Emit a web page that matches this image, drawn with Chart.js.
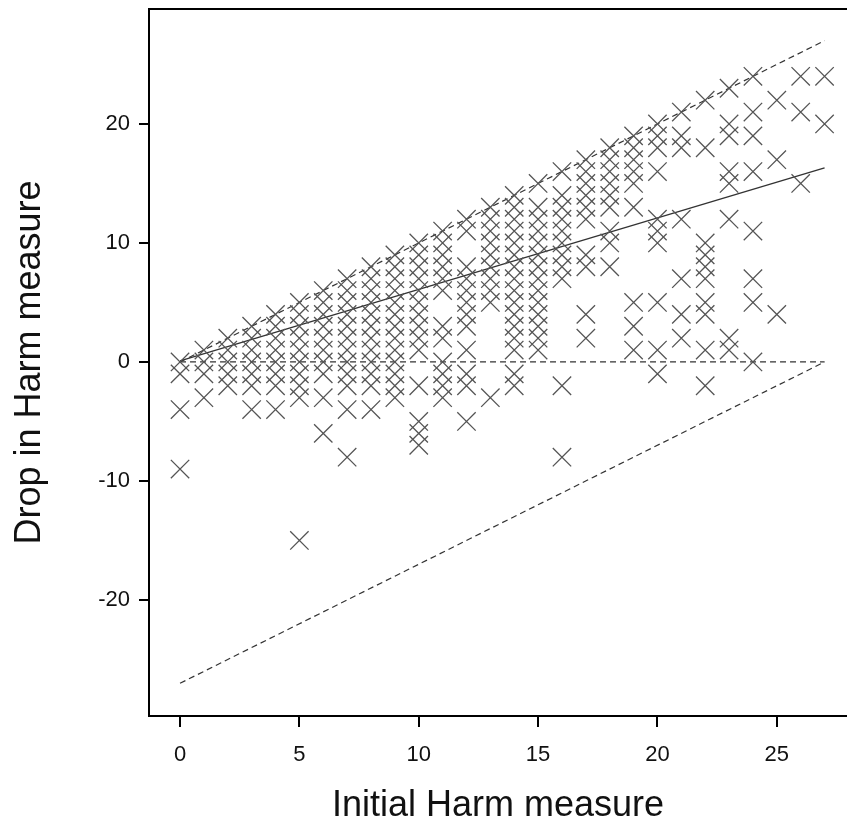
<!DOCTYPE html>
<html>
<head>
<meta charset="utf-8">
<script src="https://cdn.jsdelivr.net/npm/chart.js@4"></script>
<style>
  html, body { margin: 0; padding: 0; background: #fff; }
  #wrap { width: 847px; height: 828px; }
</style>
</head>
<body>
<div id="wrap"><canvas id="harmChart" width="847" height="828"></canvas></div>
<script>
// initial harm score (x) and the drops observed at each score (y)
const initialHarm = [0,1,2,3,4,5,6,7,8,9,10,11,12,13,14,15,16,17,18,19,20,21,22,23,24,25,26,27]
const dropInHarm = [
  [0,-1,-4,-9],
  [1,0,-1,-3],
  [2,1,0,-1,-2],
  [3,2,1,0,-1,-2,-4],
  [4,3,2,1,0,-1,-2,-4],
  [5,4,3,2,1,0,-1,-2,-3,-15],
  [6,5,4,3,2,1,0,-1,-3,-6],
  [7,6,5,4,3,2,1,0,-1,-2,-4,-8],
  [8,7,6,5,4,3,2,1,0,-1,-2,-4],
  [9,8,7,6,5,4,3,2,1,0,-1,-2,-3],
  [10,9,8,7,6,5,4,3,2,1,-2,-5,-6,-7],
  [11,10,9,8,7,6,3,2,0,-1,-2,-3],
  [12,11,8,7,6,5,4,3,1,-1,-2,-5],
  [13,12,11,10,9,8,7,6,5,-3],
  [14,13,12,11,10,9,8,7,6,5,4,3,2,1,-1,-2],
  [15,13,12,11,10,9,8,7,6,5,4,3,2,1],
  [16,14,13,12,11,10,9,8,7,-2,-8],
  [17,16,15,14,13,12,9,8,4,2],
  [18,17,16,15,14,13,11,10,8],
  [19,18,17,16,15,13,5,3,1],
  [20,19,18,16,12,11,10,5,1,-1],
  [21,19,18,12,7,4,2],
  [22,18,10,9,8,7,5,4,1,-2],
  [23,20,19,16,15,12,2,1],
  [24,21,19,16,11,7,5,0],
  [22,17,4],
  [24,21,15],
  [24,20]
]

// reference lines: max possible drop, no change, max possible rise, fitted line
const upperBound = [{x:0, y:0}, {x:27, y:27}]
const noChange = [{x:0, y:0}, {x:27, y:0}]
const lowerBound = [{x:0, y:-27}, {x:27, y:0}]
const fitLine = [{x:0, y:0.1}, {x:27, y:16.3}]

const xTickValues = [0,5,10,15,20,25]
const yTickValues = [-20,-10,0,10,20]

let points = []
initialHarm.forEach((x, i) => {
  dropInHarm[i].forEach(y => points.push({x: x, y: y}))
})

const fontFamily = "'Liberation Sans', Arial, sans-serif"

function refLine(data, dashed) {
  return {
    type: 'line',
    data: data,
    borderColor: '#333',
    borderWidth: dashed ? 1.2 : 1.3,
    borderDash: dashed ? [6, 4] : [],
    pointRadius: 0,
    fill: false,
    tension: 0
  }
}

const topFrame = {
  id: 'topFrame',
  afterDraw(chart) {
    const {ctx, chartArea} = chart
    ctx.save()
    ctx.strokeStyle = '#000'
    ctx.lineWidth = 2
    ctx.beginPath()
    ctx.moveTo(chartArea.left - 1, chartArea.top)
    ctx.lineTo(chartArea.right, chartArea.top)
    ctx.stroke()
    ctx.restore()
  }
}

let harmChart = new Chart(document.getElementById('harmChart').getContext('2d'), {
  type: 'scatter',
  data: {
    datasets: [
      {
        label: 'Patients',
        data: points,
        pointStyle: 'crossRot',
        pointRadius: 13,
        pointHoverRadius: 13,
        borderColor: '#555',
        borderWidth: 1.3,
        backgroundColor: 'transparent'
      },
      refLine(upperBound, true),
      refLine(noChange, true),
      refLine(lowerBound, true),
      refLine(fitLine, false)
    ]
  },
  options: {
    responsive: false,
    animation: false,
    events: [],
    layout: { autoPadding: false, padding: { top: 9, right: 0, left: 0, bottom: 0 } },
    plugins: {
      legend: { display: false },
      tooltip: { enabled: false }
    },
    scales: {
      x: {
        type: 'linear',
        min: -1.3,
        max: 27.94,
        afterBuildTicks: scale => { scale.ticks = xTickValues.map(v => ({value: v})) },
        afterFit: scale => { scale.height = 112; scale.paddingLeft = 0; scale.paddingRight = 0 },
        grid: { drawOnChartArea: false, color: '#000', lineWidth: 2, tickLength: 11 },
        border: { display: true, color: '#000', width: 2 },
        ticks: { color: '#111', padding: 15, font: { family: fontFamily, size: 22 } },
        title: {
          display: true,
          text: 'Initial Harm measure',
          color: '#111',
          padding: { top: 0, bottom: 0 },
          font: { family: fontFamily, size: 36 }
        }
      },
      y: {
        type: 'linear',
        min: -29.75,
        max: 29.66,
        afterBuildTicks: scale => { scale.ticks = yTickValues.map(v => ({value: v})) },
        afterFit: scale => { scale.width = 149; scale.paddingTop = 0; scale.paddingBottom = 0 },
        grid: { drawOnChartArea: false, color: '#000', lineWidth: 2, tickLength: 10 },
        border: { display: true, color: '#000', width: 2 },
        ticks: { color: '#111', padding: 9, font: { family: fontFamily, size: 22 } },
        title: {
          display: true,
          text: 'Drop in Harm measure',
          color: '#111',
          padding: { top: 8, bottom: 0 },
          font: { family: fontFamily, size: 36 }
        }
      }
    }
  },
  plugins: [topFrame]
})
</script>
</body>
</html>
